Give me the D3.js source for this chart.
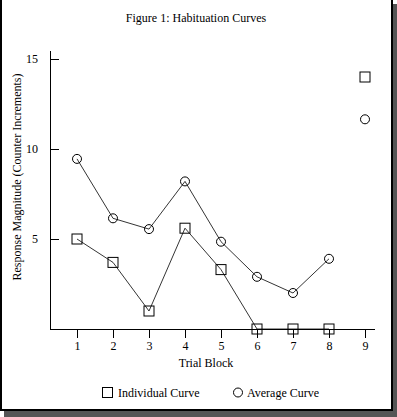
<!DOCTYPE html>
<html><head><meta charset="utf-8">
<script src="https://cdn.jsdelivr.net/npm/d3@7"></script>
<style>body{margin:0;background:#fff}svg{display:block}text{font-family:"Liberation Serif","Times New Roman",serif;font-size:12px;fill:#000}</style>
</head><body>
<svg id="c" width="397" height="417"></svg>
<script>
const trials = [1,2,3,4,5,6,7,8,9];
const individual = [5.0,3.7,1.0,5.6,3.3,0,0,0,14.0];
const average = [9.45,6.15,5.55,8.2,4.85,2.9,2.0,3.9,11.65];
const yTicks = [5,10,15];
const connectedCount = 8;

const svg = d3.select("#c");
svg.append("rect").attr("x",4).attr("y",4).attr("width",393).attr("height",413).attr("fill","#555");
svg.append("rect").attr("x",1).attr("y",-2).attr("width",391).attr("height",412).attr("fill","#fff").attr("stroke","#000").attr("stroke-width",2);

const x = d3.scaleLinear().domain([0.25,9.25]).range([50,374]);
const y = d3.scaleLinear().domain([0,15.5]).range([329,50]);

svg.append("text").attr("x",196).attr("y",22).attr("text-anchor","middle").text("Figure 1: Habituation Curves");

const gx = svg.append("g").attr("transform","translate(0,329)")
  .call(d3.axisBottom(x).tickValues(trials).tickFormat(d3.format("d")).tickSize(9).tickSizeOuter(0).tickPadding(3));
const gy = svg.append("g").attr("transform","translate(50,0)")
  .call(d3.axisLeft(y).tickValues(yTicks).tickSize(-9).tickSizeOuter(0).tickPadding(12));
[gx,gy].forEach(g=>{
  g.select(".domain").attr("stroke","#000").attr("stroke-width",1);
  g.selectAll(".tick line").attr("stroke","#000");
  g.selectAll("text").attr("font-family",null).attr("font-size",null).attr("fill","#000");
});
gx.selectAll(".domain").attr("shape-rendering","crispEdges");
gy.selectAll(".domain").attr("shape-rendering","crispEdges");

svg.append("text").attr("x",206).attr("y",367).attr("text-anchor","middle").text("Trial Block");
svg.append("text").attr("transform","translate(21,177) rotate(-90)").attr("text-anchor","middle").text("Response Magnitude (Counter Increments)");

const line = d3.line().x((d,i)=>x(trials[i])).y(d=>y(d));
svg.append("path").attr("d",line(individual.slice(0,connectedCount))).attr("fill","none").attr("stroke","#000").attr("stroke-width",0.8);
svg.append("path").attr("d",line(average.slice(0,connectedCount))).attr("fill","none").attr("stroke","#000").attr("stroke-width",0.8);

svg.selectAll(".sq").data(individual).enter().append("rect")
  .attr("x",(d,i)=>x(trials[i])-5).attr("y",d=>y(d)-5).attr("width",10).attr("height",10)
  .attr("fill","none").attr("stroke","#000").attr("stroke-width",1);
svg.selectAll(".ci").data(average).enter().append("circle")
  .attr("cx",(d,i)=>x(trials[i])).attr("cy",d=>y(d)).attr("r",4.5)
  .attr("fill","none").attr("stroke","#000").attr("stroke-width",1);

svg.append("rect").attr("x",102.5).attr("y",387.5).attr("width",10).attr("height",10).attr("fill","none").attr("stroke","#000");
svg.append("text").attr("x",118).attr("y",397).text("Individual Curve");
svg.append("circle").attr("cx",238).attr("cy",392.5).attr("r",4.5).attr("fill","none").attr("stroke","#000");
svg.append("text").attr("x",247).attr("y",397).text("Average Curve");
</script>
</body></html>
